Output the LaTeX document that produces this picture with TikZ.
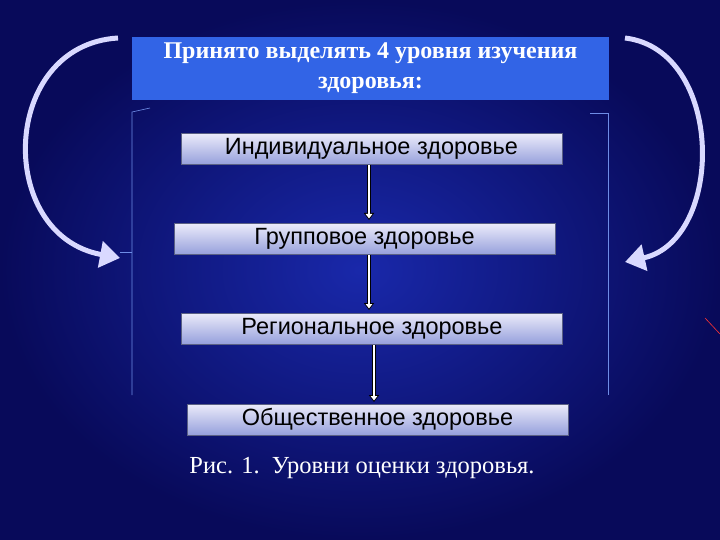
\documentclass[tikz,border=0pt]{standalone}
\usepackage{fontspec}
\setmainfont{Liberation Serif}
\newfontfamily\arialf{Liberation Sans}
\usetikzlibrary{arrows.meta}
\definecolor{bgdark}{RGB}{8,10,90}
\definecolor{bgmid}{RGB}{25,40,170}
\definecolor{hdr}{RGB}{50,100,230}
\definecolor{boxtop}{RGB}{235,235,250}
\definecolor{boxbot}{RGB}{150,160,220}
\definecolor{brk}{RGB}{110,140,230}
\tikzset{
  lvl/.style={draw=boxbot!60!black, line width=0.6pt, top color=boxtop, bottom color=boxbot, minimum width=381pt, minimum height=31pt, inner sep=0pt, font=\arialf\fontsize{23.5}{26}\selectfont, text=black},
  down/.style={draw=black, line width=4pt, -{Triangle[length=7pt,width=10pt]}, shorten >=2pt},
  downin/.style={draw=white, line width=2pt, -{Triangle[length=4.5pt,width=6.5pt]}, shorten >=3.5pt},
  curve/.style={draw=white!85!blue, line width=5pt, -{Triangle[length=20pt,width=26pt]}},
  brkt/.style={draw=brk, line width=0.6pt}
}
\begin{document}
\begin{tikzpicture}[x=1pt,y=-1pt]
\useasboundingbox (0,0) rectangle (720,540);
\shade[inner color=bgmid, outer color=bgdark] (0,0) rectangle (720,540);
\node[fill=hdr, minimum width=477pt, minimum height=63pt, inner sep=0pt, align=center, text=white, font=\bfseries\fontsize{24}{30}\selectfont] (hdr) at (370.5,68.5) {Принято выделять 4 уровня изучения\\здоровья:};
\node[lvl] (b1) at (371.5,149) {Индивидуальное здоровье};
\node[lvl] (b2) at (364.5,239) {Групповое здоровье};
\node[lvl] (b3) at (372,328.5) {Региональное здоровье};
\node[lvl] (b4) at (377.5,419.5) {Общественное здоровье};
\coordinate (a1) at (369,165); \coordinate (a1e) at (369,222);
\coordinate (a2) at (369,255); \coordinate (a2e) at (369,312);
\coordinate (a3) at (374,345); \coordinate (a3e) at (374,404);
\foreach \s/\e in {a1/a1e,a2/a2e,a3/a3e}{
  \draw[down] (\s) -- (\e);
  \draw[downin] (\s) -- (\e);
}
\coordinate (l1) at (150,108); \coordinate (l2) at (132,112); \coordinate (l3) at (132,395);
\draw[brkt] (l1) -- (l2) -- (l3);
\coordinate (lm) at (132,252); \coordinate (lmt) at (120,252);
\draw[brkt] (lm) -- (lmt);
\coordinate (r1) at (590,113); \coordinate (r2) at (608,113); \coordinate (r3) at (608,395);
\draw[brkt] (r1) -- (r2) -- (r3);
\coordinate (ls) at (118,38); \coordinate (le) at (120,258);
\draw[curve] (ls) .. controls (0,45) and (-5,235) .. (le);
\coordinate (rs) at (625,38); \coordinate (re) at (625,262);
\draw[curve] (rs) .. controls (725,50) and (725,240) .. (re);
\coordinate (rd1) at (705,318); \coordinate (rd2) at (720,334);
\draw[red!80!white, line width=0.6pt] (rd1) -- (rd2);
\node[text=white, font=\fontsize{24.5}{28}\selectfont] (cap) at (362,468) {Рис. 1.\ \ Уровни оценки здоровья.};
\end{tikzpicture}
\end{document}
